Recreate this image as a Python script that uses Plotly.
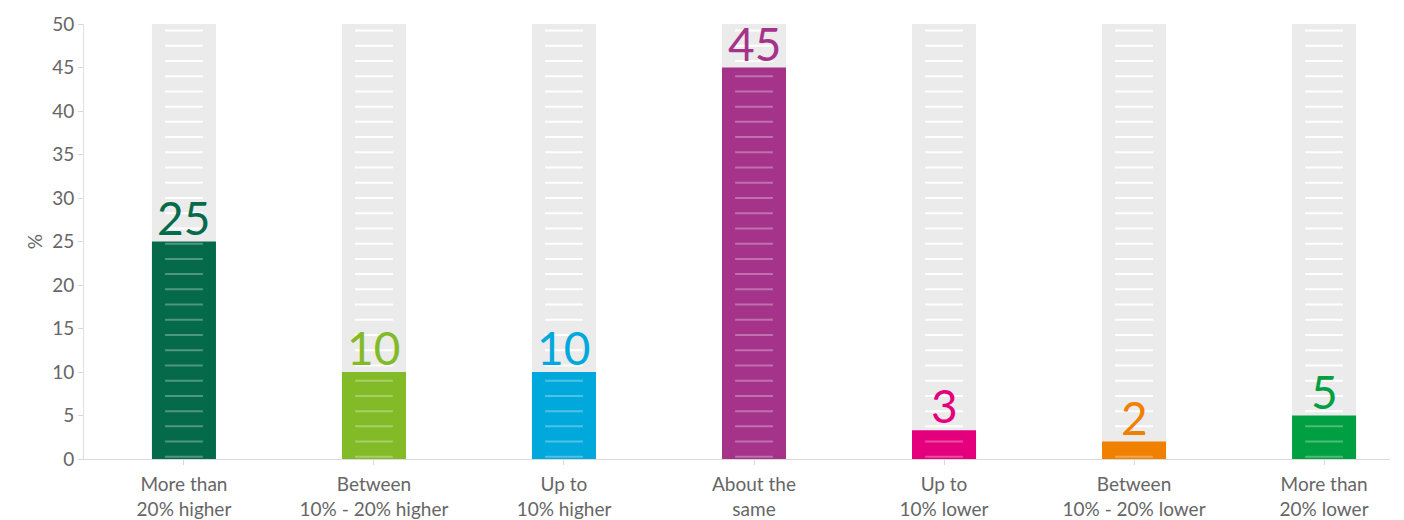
import plotly.graph_objects as go
import numpy as np

categories = ["More than<br>20% higher", "Between<br>10% - 20% higher", "Up to<br>10% higher",
              "About the<br>same", "Up to<br>10% lower", "Between<br>10% - 20% lower", "More than<br>20% lower"]
values = [25, 10, 10, 45, 3.3, 2, 5]
value_labels = ["25", "10", "10", "45", "3", "2", "5"]
colors = ["#046a4a", "#82bb27", "#00a8dc", "#a5338a", "#e4007c", "#f08000", "#009f41"]
y_max = 50
y_ticks = [0, 5, 10, 15, 20, 25, 30, 35, 40, 45, 50]

FONT = "Lato"
xs = list(range(len(categories)))
bar_w = 0.337

fig = go.Figure()

# grey background columns
fig.add_trace(go.Bar(x=xs, y=[y_max] * len(xs), width=bar_w, marker=dict(color="#ebebeb", line=dict(width=0)),
                     hoverinfo="skip", showlegend=False))

# dash scale positions
dash_y = 0.25 + 1.75 * np.arange(29)
dx_all, dy_all, dx_in, dy_in = [], [], [], []
for x, v in zip(xs, values):
    for y in dash_y:
        if y > v:
            dx_all.append(x); dy_all.append(y)
fig.add_trace(go.Scatter(x=dx_all, y=dy_all, mode="markers",
                         marker=dict(symbol="line-ew", size=27, line=dict(color="white", width=2)),
                         hoverinfo="skip", showlegend=False))

# coloured bars
fig.add_trace(go.Bar(x=xs, y=values, width=bar_w, marker=dict(color=colors, line=dict(width=0)),
                     hoverinfo="skip", showlegend=False))

for x, v in zip(xs, values):
    for y in dash_y:
        if y < v:
            dx_in.append(x); dy_in.append(y)
fig.add_trace(go.Scatter(x=dx_in, y=dy_in, mode="markers",
                         marker=dict(symbol="line-ew", size=27, line=dict(color="rgba(255,255,255,0.3)", width=2)),
                         hoverinfo="skip", showlegend=False))

# value labels
for x, v, t, c in zip(xs, values, value_labels, colors):
    fig.add_annotation(x=x, y=v, text=t, showarrow=False, xanchor="center", yanchor="bottom",
                       yshift=-5, font=dict(family=FONT, size=46, color=c))

fig.update_layout(
    width=1404, height=520,
    margin=dict(l=84, r=14, t=24, b=61),
    paper_bgcolor="white", plot_bgcolor="white",
    barmode="overlay",
    font=dict(family=FONT, color="#666666", size=18),
    xaxis=dict(range=[-0.526, 6.347], tickmode="array", tickvals=xs, ticktext=categories,
               showline=True, linecolor="#d9d9d9", linewidth=1, ticks="outside", ticklen=5,
               tickcolor="#d9d9d9", showgrid=False, zeroline=False, automargin=False,
               ticklabelstandoff=3,
               tickfont=dict(family=FONT, size=19, color="#666666")),
    yaxis=dict(range=[0, y_max], tickmode="array", tickvals=y_ticks, showline=True,
               linecolor="#e0e0e0", linewidth=1, ticks="outside", ticklen=5, tickcolor="#d9d9d9",
               showgrid=False, zeroline=False, automargin=False,
               tickfont=dict(family=FONT, size=19, color="#666666"),
               title=dict(text="%", standoff=4, font=dict(family=FONT, size=19, color="#666666"))),
)

fig.write_html("out.html")
